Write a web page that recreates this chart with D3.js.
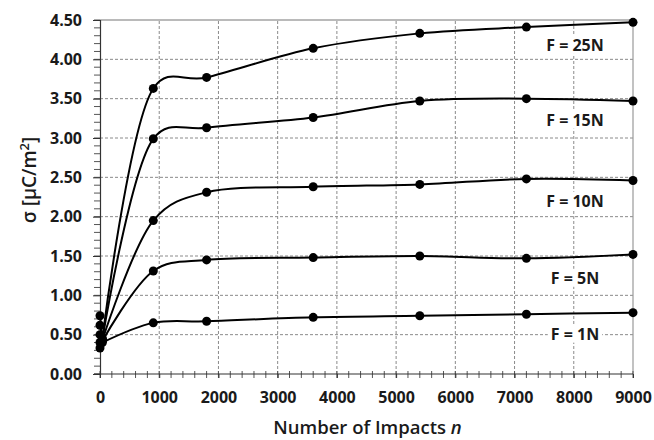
<!DOCTYPE html>
<html><head><meta charset="utf-8">
<script src="https://cdn.jsdelivr.net/npm/d3@7"></script>
<style>
body{margin:0;background:#fff;}
text{font-family:"Open Sans",sans-serif;fill:#1a1a1a;}
</style></head>
<body><svg id="c" width="654" height="440"></svg>
<script>
// Data
const impacts = [0, 40, 900, 1800, 3600, 5400, 7200, 9000];
const sigma1N  = [0.33, 0.40, 0.65, 0.67, 0.72, 0.74, 0.76, 0.78];
const sigma5N  = [0.40, 0.42, 1.31, 1.45, 1.48, 1.50, 1.47, 1.52];
const sigma10N = [0.50, 0.43, 1.95, 2.31, 2.38, 2.41, 2.48, 2.46];
const sigma15N = [0.62, 0.44, 2.99, 3.13, 3.26, 3.47, 3.50, 3.47];
const sigma25N = [0.74, 0.45, 3.63, 3.77, 4.14, 4.33, 4.41, 4.47];
const seriesLabels = ["F = 1N", "F = 5N", "F = 10N", "F = 15N", "F = 25N"];
const labelValues = [0.51, 1.22, 2.20, 3.23, 4.18];
const labelN = 8020;
const xTicks = [0,1000,2000,3000,4000,5000,6000,7000,8000,9000];
const yTicks = [0,0.5,1,1.5,2,2.5,3,3.5,4,4.5];

const series = [sigma1N, sigma5N, sigma10N, sigma15N, sigma25N];

const svg = d3.select("#c");
const x = d3.scaleLinear().domain([0,9000]).range([100,633]);
const y = d3.scaleLinear().domain([0,4.5]).range([374,20]);

// gridlines
const g = svg.append("g");
g.selectAll(".hg").data(yTicks.filter(d=>d>0 && d<4.5)).enter().append("line")
  .attr("x1",x(0)).attr("x2",x(9000)).attr("y1",d=>y(d)).attr("y2",d=>y(d))
  .attr("stroke","#8a8a8a").attr("stroke-width",1).attr("stroke-dasharray","3,2");
g.selectAll(".vg").data(xTicks.filter(d=>d>0 && d<9000)).enter().append("line")
  .attr("x1",d=>x(d)).attr("x2",d=>x(d)).attr("y1",y(0)).attr("y2",y(4.5))
  .attr("stroke","#8a8a8a").attr("stroke-width",1).attr("stroke-dasharray","3,2");
// top & right border
svg.append("line").attr("x1",x(0)).attr("x2",x(9000)).attr("y1",y(4.5)).attr("y2",y(4.5))
  .attr("stroke","#777").attr("stroke-width",1.2);
svg.append("line").attr("x1",x(9000)).attr("x2",x(9000)).attr("y1",y(0)).attr("y2",y(4.5))
  .attr("stroke","#999").attr("stroke-width",1.2);

// minor ticks
const yMinor = d3.range(0,4.5001,0.1);
svg.append("g").selectAll("line").data(yMinor).enter().append("line")
  .attr("x1",x(0)-6).attr("x2",x(0)).attr("y1",d=>y(d)).attr("y2",d=>y(d))
  .attr("stroke","#555").attr("stroke-width",1);
const xMinor = d3.range(0,9001,200);
svg.append("g").selectAll("line").data(xMinor).enter().append("line")
  .attr("x1",d=>x(d)).attr("x2",d=>x(d)).attr("y1",y(0)-3).attr("y2",y(0)+4)
  .attr("stroke","#555").attr("stroke-width",1);

// axes
const yAxis = d3.axisLeft(y).tickValues(yTicks).tickFormat(d3.format(".2f")).tickSize(7).tickPadding(11);
const ya = svg.append("g").attr("transform",`translate(${x(0)},0)`).call(yAxis);
ya.select(".domain").attr("stroke","#333").attr("stroke-width",1.2);
ya.selectAll(".tick line").attr("stroke","#333");
ya.selectAll("text").style("font-size","16px").style("font-weight","700").attr("fill","#1a1a1a");

const xAxis = d3.axisBottom(x).tickValues(xTicks).tickFormat(d3.format("d")).tickSize(4).tickPadding(14);
const xa = svg.append("g").attr("transform",`translate(0,${y(0)})`).call(xAxis);
xa.select(".domain").remove();
xa.selectAll(".tick line").attr("stroke","#333");
xa.selectAll("text").style("font-size","16px").style("font-weight","700").attr("fill","#1a1a1a");
svg.append("line").attr("x1",x(0)-6).attr("x2",x(9000)).attr("y1",y(0)).attr("y2",y(0))
  .attr("stroke","#333").attr("stroke-width",1.2);

// lines: initial (n=0 → first impacts) straight, then smoothed
const pts = s => s.map((v,i)=>[x(impacts[i]), y(v)]);
const lineStart = d3.line();
const lineSmooth = d3.line().curve(d3.curveCatmullRom.alpha(0.3));
series.forEach(s=>{
  const p = pts(s);
  svg.append("path").attr("d",lineStart(p.slice(0,2))).attr("fill","none")
    .attr("stroke","#000").attr("stroke-width",2);
  svg.append("path").attr("d",lineSmooth(p.slice(1))).attr("fill","none")
    .attr("stroke","#000").attr("stroke-width",2);
});
series.forEach(s=>{
  svg.append("g").selectAll("circle").data(s).enter().append("circle")
    .attr("cx",(d,i)=>x(impacts[i])).attr("cy",d=>y(d)).attr("r",4.5).attr("fill","#000");
});

// labels
seriesLabels.forEach((t,i)=>{
  const lg = svg.append("g");
  const tx = lg.append("text").attr("x",x(labelN)).attr("y",y(labelValues[i]))
    .attr("text-anchor","middle").attr("dy","0.36em")
    .style("font-size","16px").style("font-weight","700").text(t);
  const bb = tx.node().getBBox();
  lg.insert("rect","text").attr("x",bb.x-3).attr("y",bb.y+2).attr("width",bb.width+6).attr("height",bb.height-4)
    .attr("fill","#fff");
});

// axis titles
svg.append("text").attr("x",(x(0)+x(9000))/2+1).attr("y",434)
  .attr("text-anchor","middle").style("font-size","18.5px").style("font-weight","600")
  .html('Number of Impacts <tspan font-style="italic">n</tspan>');
svg.append("text").attr("transform","translate(36,180) rotate(-90)")
  .attr("text-anchor","middle").style("font-size","19px").style("font-weight","600")
  .html('σ [μC/m<tspan dy="-7" font-size="13px">2</tspan><tspan dy="7">]</tspan>');
</script></body></html>
